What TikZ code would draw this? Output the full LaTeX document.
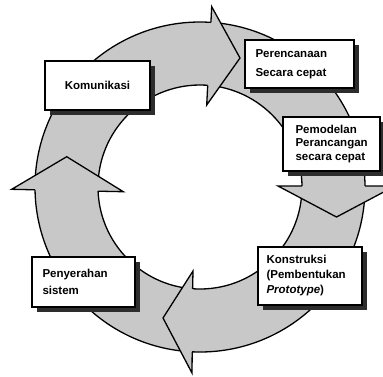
\documentclass[tikz,border=0pt]{standalone}
\usepackage{fontspec}
\setmainfont{Liberation Sans}
\usetikzlibrary{shadows}
\definecolor{ringgray}{RGB}{200,200,200}
\definecolor{shadowgray}{RGB}{45,45,45}
\begin{document}
\begin{tikzpicture}[x=1pt,y=-1pt,
  ringline/.style={draw=black,line width=1.3pt,line join=miter},
  headfill/.style={fill=ringgray},
  stagebox/.style={draw=black,line width=1.4pt,fill=white,inner sep=0pt,
    general shadow={fill=shadowgray,shadow xshift=4.5pt,shadow yshift=-4.5pt}},
  stagetext/.style={anchor=west,align=left,inner sep=0pt},
  lab/.style={font=\fontsize{11.5}{#1}\selectfont\bfseries}
]
\useasboundingbox (0,0) rectangle (383,376);
\clip (0,0) rectangle (383,376);
\coordinate (C) at (200,187);
% ring
\fill[ringgray,even odd rule] (C) circle[radius=165pt] (C) circle[radius=102pt];
\draw[ringline] (C) circle[radius=165pt];
\draw[ringline] (C) circle[radius=102pt];
% top arrowhead
\coordinate (tbo) at (211.7,6.7);
\coordinate (ttip) at (240,58);
\coordinate (tbi) at (206.7,105);
\coordinate (tro) at (210.9,22.4);
\coordinate (tri) at (207.7,85.5);
\fill[headfill] (tbo) -- (ttip) -- (tbi) -- cycle;
\draw[ringline] (tro) -- (tbo) -- (ttip) -- (tbi) -- (tri);
% right arrowhead
\coordinate (rbi) at (278,186);
\coordinate (rtip) at (336.5,217);
\coordinate (rbo) at (395,186);
\coordinate (rri) at (302,186);
\coordinate (rro) at (365,186);
\fill[headfill] (rbi) -- (rtip) -- (rbo) -- cycle;
\draw[ringline] (rri) -- (rbi) -- (rtip) -- (rbo) -- (rro);
% bottom arrowhead
\coordinate (bbi) at (193,271);
\coordinate (btip) at (163,318);
\coordinate (bbo) at (192,373);
\coordinate (bri) at (192.6,288.8);
\coordinate (bro) at (192.2,351.8);
\fill[headfill] (bbi) -- (btip) -- (bbo) -- cycle;
\draw[ringline] (bri) -- (bbi) -- (btip) -- (bbo) -- (bro);
% left arrowhead
\coordinate (lbo) at (11.7,189.3);
\coordinate (ltip) at (66.7,156.7);
\coordinate (lbi) at (123.3,191.7);
\coordinate (lro) at (35,189.8);
\coordinate (lri) at (98.1,191.2);
\fill[headfill] (lbo) -- (ltip) -- (lbi) -- cycle;
\draw[ringline] (lro) -- (lbo) -- (ltip) -- (lbi) -- (lri);
% boxes
\node[stagebox,minimum width=105pt,minimum height=49pt] (kom) at (97.5,85.5) {};
\node[stagebox,minimum width=109pt,minimum height=48pt] (ren) at (299.5,64) {};
\node[stagebox,minimum width=97pt,minimum height=54pt] (mod) at (331.5,144) {};
\node[stagebox,minimum width=104pt,minimum height=58pt] (kon) at (310,276) {};
\node[stagebox,minimum width=103pt,minimum height=50pt] (pen) at (83.5,282) {};
% texts
\node[inner sep=0pt,lab=14] (komt) at (kom.center) {Komunikasi};
\node[stagetext,lab=19] (rent) at ([xshift=11pt]ren.west) {Perencanaan\\Secara cepat};
\node[stagetext,lab=13.5] (modt) at ([xshift=13pt]mod.west) {Pemodelan\\Perancangan\\secara cepat};
\node[stagetext,lab=15] (kont) at ([xshift=9pt]kon.west) {Konstruksi\\(Pembentukan\\\textit{Prototype})};
\node[stagetext,lab=17] (pent) at ([xshift=11pt]pen.west) {Penyerahan\\sistem};
\end{tikzpicture}
\end{document}
